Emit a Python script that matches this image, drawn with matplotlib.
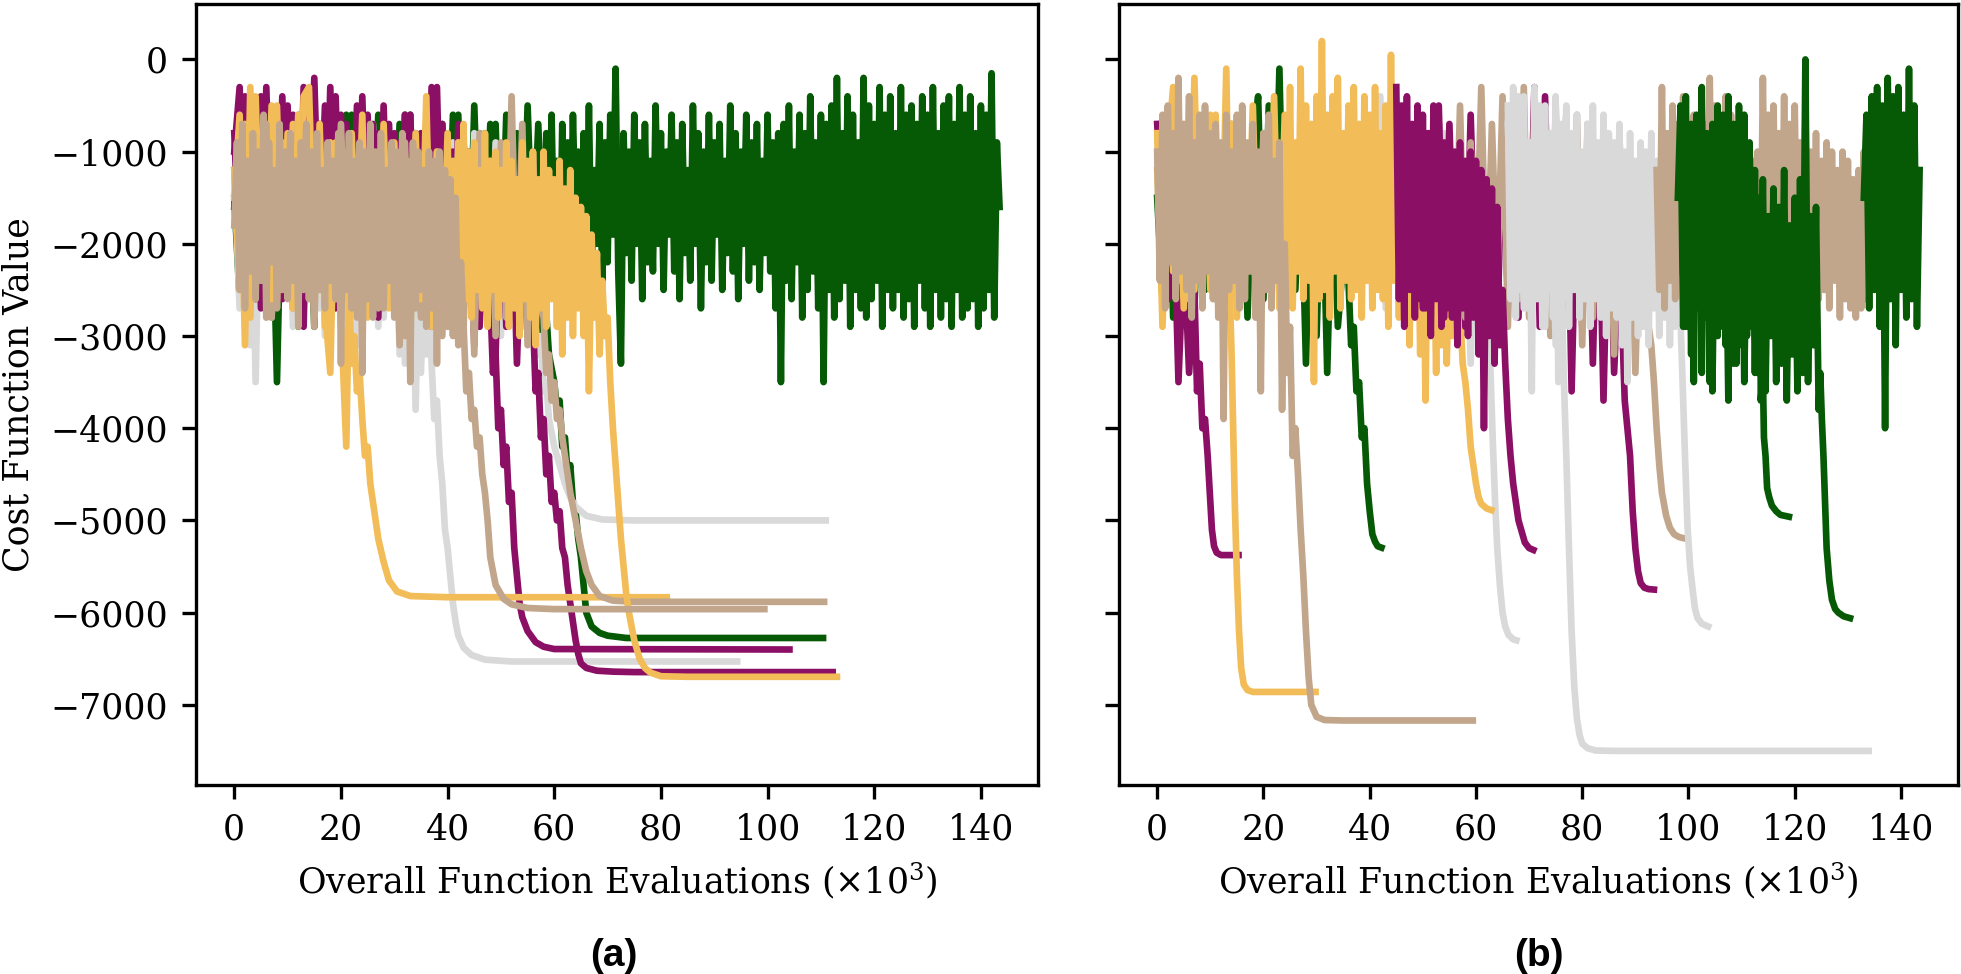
import matplotlib
matplotlib.use("Agg")
import matplotlib.pyplot as plt
import numpy as np

plt.rcParams["font.family"] = "DejaVu Serif"
plt.rcParams["mathtext.fontset"] = "dejavuserif"

GREEN = "#065a06"
PURPLE = "#8c0f66"
GRAY = "#d9d9d9"
TAN = "#c1a68c"
YELLOW = "#f2bc58"

# noisy phases: values sampled every `step` (x 1e3 evals) starting at `start`
# tails: descent + plateau as explicit (x, cost) points

# ---------------- panel (a) ----------------
a_green1_noise = [
    -1500, -2600, -800, -2900, -1000, -2400, -700, -2800, -1100, -2500,
    -600, -2700, -900, -2300, -1200, -2900, -700, -2600, -1000, -2400,
    -800, -2800, -600, -2500, -1100, -2700, -900, -2300, -700, -2600,
    -1000, -2900, -600, -2400, -800, -2700, -1100, -2500, -700, -2800,
    -900, -2400, -600, -2600, -1000, -2900, -800, -2300, -700, -2700,
    -1000, -2500, -900, -2800, -1200, -2600, -1500, -3000]
a_green1_tail_x = [58, 59, 60, 60.5, 61, 61.5, 62, 62.5, 63, 63.5, 64, 64.5, 65,
                   65.5, 66, 67, 68.5, 70, 73.5, 110.4]
a_green1_tail_y = [-2300, -3200, -3500, -3800, -3700, -4200, -4100, -4500, -4400,
                   -4800, -4900, -5200, -5400, -5700, -6000, -6150, -6220, -6250,
                   -6275, -6275]

a_green2_noise = [
    -1600, -700, -2500, -900, -2200, -800, -2700, -1100, -3500, -900,
    -2400, -700, -2900, -600, -2100, -1000, -2600, -700, -2300, -900,
    -2500, -600, -2200, -800, -2700, -700, -2000, -600, -2400, -800,
    -2200, -700, -2600, -600, -2300, -900, -2500, -800, -2100, -700,
    -2400, -600, -2200, -900, -2600, -500, -2300, -800, -2000, -700,
    -2500, -600, -2100, -800, -2400, -500, -2200, -700]
a_green2_dense = [
    -2400, -800, -1900, -600, -2200, -1100, -2500, -700, -2000, -900,
    -2300, -600, -1800, -1000, -2600, -800, -2100, -500, -2400, -1200,
    -2000, -700, -2500, -900, -2200, -600, -1900, -100, -2300, -3300,
    -800, -2100, -1000, -2400, -600, -2000, -900, -2600, -700, -2200,
    -1100, -2300, -500, -2000, -800, -2500, -1000, -1900, -600, -2300,
    -900, -2600, -700, -2100, -1200, -2400, -500, -2000, -800, -2700,
    -1000, -2200, -600, -2400, -900, -1900, -700, -2500, -1100, -2100,
    -500, -2300, -800, -2600, -1000, -2000, -600, -2400, -900, -2200,
    -700, -2500, -1100, -2100, -600, -2300, -900, -2700, -800, -3500,
    -700, -2400, -500, -2600, -1000, -2200, -600, -2800, -800, -2500,
    -400, -2300, -900, -2700, -600, -3500, -700, -2500, -500, -2800,
    -200, -2600, -800, -2400, -400, -2900, -600, -2500, -900, -2700,
    -200, -2800, -500, -2600, -700, -2400, -300, -2900, -600, -2500,
    -400, -2700, -800, -2500, -300, -2800, -600, -2600, -500, -2900,
    -700, -2400, -400, -2700, -600, -2900, -300, -2500, -800, -2800,
    -500, -2600, -400, -2900, -700, -2500, -300, -2800, -600, -2700,
    -400, -2600, -800, -2900, -500, -2700, -600, -2500, -150, -2800,
    -900, -1600]

a_purple1_noise = [
    -1000, -300, -2400, -500, -2600, -400, -2200, -700, -2500, -400,
    -2300, -600, -2700, -300, -2400, -200, -2200, -500, -2600, -400,
    -2300, -700, -2500, -500, -2800, -600, -2400, -800, -2600, -700,
    -2300, -900, -2700, -600, -2500, -800, -2400, -300, -2900, -700,
    -2600, -1000, -2800, -900, -2500, -1100, -2900, -1300]
a_purple1_tail_x = [48, 48.5, 49, 49.5, 50, 50.5, 51, 51.5, 52, 52.5, 53, 53.5, 54,
                    55, 56.5, 58, 60, 104.1]
a_purple1_tail_y = [-2600, -3400, -3200, -4000, -3800, -4400, -4200, -4800, -4700,
                    -5300, -5600, -5900, -6050, -6200, -6320, -6370, -6395, -6400]

a_purple2_noise = [
    -800, -2200, -400, -2500, -600, -2700, -300, -2300, -900, -2600,
    -500, -2400, -700, -2900, -400, -2300, -800, -2500, -300, -2700,
    -600, -2400, -900, -2600, -400, -2300, -700, -2800, -500, -2500,
    -800, -2400, -600, -2700, -1000, -2500, -700, -2900, -300, -2600,
    -900, -2800, -700, -2500, -1100, -3100, -900, -2700, -1200, -3200,
    -1000, -2900, -1300, -3300, -1500, -3000]
a_purple2_tail_x = [56, 56.5, 57, 57.5, 58, 58.5, 59, 59.5, 60, 60.5, 61, 61.5, 62,
                    62.5, 63, 63.5, 64, 64.5, 65, 66, 68, 71, 75, 112.2]
a_purple2_tail_y = [-2800, -3600, -3400, -4100, -3900, -4500, -4300, -4800, -4700,
                    -5000, -4900, -5300, -5400, -5700, -5900, -6100, -6300, -6450,
                    -6550, -6600, -6630, -6640, -6645, -6645]

a_gray1_noise = [
    -1500, -800, -2400, -600, -3500, -500, -2800, -900, -2500, -700,
    -2300, -1000, -2600, -800, -2400, -900, -2700, -600, -2500, -1000,
    -2300, -800, -2900, -700, -2600, -1100, -2400, -900, -2800, -700,
    -2500, -1000, -3300, -800, -3800, -1200, -3200, -900, -2700, -1100,
    -2500, -900, -2800, -1000, -2600, -800, -2900, -1100, -2700, -900,
    -3000, -1000, -2800, -1300, -2900, -1800]
a_gray1_tail_x = [56, 57, 57.5, 58, 58.5, 59, 60, 61, 62, 63, 64, 66, 69, 75, 110.9]
a_gray1_tail_y = [-2600, -3200, -3000, -3600, -3500, -3900, -4200, -4400, -4600,
                  -4750, -4850, -4950, -4990, -5000, -5000]

a_gray2_noise = [
    -1200, -2700, -700, -3100, -900, -2600, -500, -2800, -1000, -2400,
    -800, -2900, -600, -2500, -1100, -2700, -800, -3000, -700, -2600,
    -900, -2800, -1000, -3100, -800, -2600, -700, -2900, -1100, -2500,
    -900, -3200, -1000, -2800, -1200, -3400, -1500]
a_gray2_tail_x = [37, 37.5, 38, 38.5, 39, 39.5, 40, 40.5, 41, 41.5, 42, 43, 44.5, 47,
                  52, 94.3]
a_gray2_tail_y = [-3300, -3900, -3700, -4300, -4600, -5100, -5300, -5600, -5900,
                  -6100, -6250, -6380, -6460, -6510, -6530, -6530]

a_tan1_noise = [
    -1200, -2200, -800, -2600, -1000, -2400, -700, -2800, -1100, -2300,
    -900, -2700, -600, -2500, -1000, -2900, -800, -2400, -1200, -2600,
    -700, -2300, -1000, -2800, -900, -2500, -1100, -2700, -800, -2400,
    -1000, -3100, -900, -2600, -1200, -2800, -700, -2500, -1000, -3000,
    -1100, -2700, -900, -2900, -1200, -3200, -800, -2600, -1100, -3000,
    -900, -2800, -400, -2700, -700, -3100, -1000, -2600]
a_tan1_tail_x = [58, 58.5, 59, 59.5, 60, 60.5, 61, 61.5, 62, 62.5, 63, 64, 65, 66,
                 67, 68.5, 71, 75, 110.6]
a_tan1_tail_y = [-2800, -3400, -3200, -3700, -3500, -3900, -3800, -4100, -4300,
                 -4500, -4700, -5000, -5300, -5550, -5700, -5820, -5870, -5883, -5883]

a_tan2_dense = [
    -1800, -900, -2500, -700, -2700, -1100, -2300, -800, -2600, -1000,
    -2400, -600, -2800, -900, -2200, -1200, -2700, -700, -2500, -1000,
    -2600, -800, -2400, -1100, -2900, -900, -2300, -700, -2600, -1000,
    -2800, -800, -2500, -1200, -2700, -900, -2400, -1100, -2600, -800,
    -3300, -1000, -2500, -800, -2700, -1100, -2400, -900, -3400, -1000,
    -2600, -700, -2800, -1000, -2500, -800, -2700, -1200, -2400, -900,
    -2800, -1000, -2600, -800, -3000, -1100, -3500, -900, -2700, -1000,
    -2500, -1200, -2900, -1000, -2700, -1100, -3300, -1000, -2800, -1200,
    -2900, -1300, -3000, -1500, -3100, -2200]
a_tan2_tail_x = [43, 43.5, 44, 44.5, 45, 45.5, 46, 46.5, 47, 47.5, 48, 49, 50.5, 52,
                 55, 60, 99.4]
a_tan2_tail_y = [-2900, -3600, -3400, -3900, -3800, -4200, -4100, -4500, -4700,
                 -5000, -5400, -5700, -5850, -5910, -5950, -5962, -5962]

a_yellow1_noise = [
    -1500, -600, -3100, -300, -2400, -800, -2200, -500, -2600, -900,
    -2300, -700, -2500, -400, -300, -2200, -1000, -2700, -3400, -900, -2800]
a_yellow1_tail_x = [21, 21.5, 22, 22.5, 23, 23.5, 24, 24.5, 25, 25.5, 26, 26.5, 27,
                    28, 29, 30.5, 33, 40, 81.1]
a_yellow1_tail_y = [-4200, -2500, -3300, -3000, -3600, -3400, -3900, -4300, -4200,
                    -4600, -4800, -5000, -5200, -5450, -5650, -5770, -5820, -5833,
                    -5833]

a_yellow2_noise = [
    -1200, -2500, -700, -2800, -400, -2300, -900, -2600, -500, -2400,
    -800, -2700, -600, -2300, -1000, -2500, -700, -2900, -900, -2400,
    -1100, -2600, -800, -2300, -600, -2800, -1000, -2500, -700, -2700,
    -900, -2400, -1200, -3000, -800, -2600, -400, -2900, -1000, -2500]
a_yellow2_dense = [
    -800, -2800, -1100, -2400, -900, -3000, -700, -2600, -1000, -2800,
    -900, -2500, -1200, -2700, -800, -2900, -1100, -2500, -1000, -2800,
    -1200, -2600, -900, -2900, -1100, -2700, -1300, -3000, -900, -2600,
    -1100, -2800, -1000, -3100, -1300, -2700, -1000, -2900, -1200, -2600,
    -1300, -2900, -1100, -3200, -1400, -2800, -1200, -3000, -1500, -2700,
    -1600, -3000, -1700, -3600, -1900, -2800, -2100, -3200]
a_yellow2_tail_x = [69, 69.5, 70, 70.5, 71, 71.5, 72, 72.5, 73, 73.5, 74, 75, 76, 77,
                    78, 80, 85, 113]
a_yellow2_tail_y = [-2400, -3000, -2800, -3500, -4000, -4400, -4800, -5200, -5500,
                    -5800, -6000, -6300, -6500, -6600, -6650, -6690, -6696, -6696]

# ---------------- panel (b) ----------------
b_green1_noise = [
    -1500, -2600, -900, -2800, -1100, -2400, -800, -2700, -1000, -2500,
    -900, -2600, -1200, -2800, -700, -2500, -1000, -2800, -900, -400,
    -2600, -500, -2400, -100, -2700, -900, -2500, -1100, -3300, -800,
    -3000, -1000, -3400, -1200, -2900, -2200]
b_green1_tail_x = [36, 36.5, 37, 37.5, 38, 38.5, 39, 39.5, 40, 40.5, 41, 41.5, 42.2]
b_green1_tail_y = [-2400, -3100, -2900, -3600, -3500, -4100, -4000, -4600, -4900,
                   -5150, -5230, -5280, -5295]

b_gray1_noise = [
    -1000, -2500, -400, -2700, -800, -2400, -600, -2800, -1000, -2600,
    -900, -2900, -1100, -2700, -800, -3000, -1000, -2800, -1200, -3300,
    -1400, -3100]
b_gray1_tail_x = [62.3, 62.8, 63.2, 63.6, 64, 64.5, 65, 65.5, 66.1, 67, 67.6]
b_gray1_tail_y = [-2700, -3500, -4200, -4800, -5300, -5700, -6000, -6150, -6240,
                  -6290, -6300]

b_purple1_noise = [-700, -1800, -2600, -1400, -3500, -2000, -3400, -2500]
b_purple1_tail_x = [7.5, 8, 8.5, 9, 9.5, 10, 10.3, 10.7, 11.2, 12, 15.3]
b_purple1_tail_y = [-3600, -3300, -4000, -3900, -4300, -4800, -5100, -5280, -5350,
                    -5376, -5376]

b_yellow1_noise = [
    -800, -2900, -1000, -300, -2400, -700, -2600, -200, -2300, -900,
    -2500, -600, -2700, -100]
b_yellow1_tail_x = [13.7, 14, 14.3, 14.6, 15, 15.4, 15.8, 16.3, 17, 18, 29.8]
b_yellow1_tail_y = [-2600, -3200, -4000, -4800, -5600, -6200, -6600, -6780, -6840,
                    -6860, -6860]

b_yellow2_noise = [
    -1200, -2600, -700, -2300, -900, -2700, -500, -2500, -800, -2200,
    -600, -2600, -1000, -2400, -700, -2800, -900, -2300, -500, -2600,
    -800, -2500, -400, -2700]
b_yellow2_dense = [
    -600, -2500, -300, -2700, -900, -2300, -100, -2600, -500, -2400,
    -700, -3500, -400, -2600, 200, -2500, -600, -2800, -400, -2300,
    -200, -2700, -800, -2400, -500, -2600, -300, -2500, -700, -2800,
    -400, -2400, -600, -2700, -300, -2500, -800, -2600, -500, -2900,
    50, -2400, -700, -2800, -600, -2500, -900, -3100, -1000, -2700,
    -1200, -3200, -1400, -3700, -1300, -2900, -1600, -3400, -1500, -3100,
    -1800, -3300, -2000, -3000, -2200, -2600]
b_yellow2_tail_x = [57, 57.5, 58, 58.5, 59, 59.5, 60, 60.5, 61, 62, 62.9]
b_yellow2_tail_y = [-2700, -3300, -3500, -3800, -4200, -4400, -4600, -4750, -4820,
                    -4870, -4888]

b_tan1_dense = [
    -1000, -2400, -600, -2700, -500, -2200, -800, -2600, -200, -2300,
    -700, -2500, -400, -2800, -900, -2400, -600, -2700, -500, -2300,
    -800, -2600, -700, -2800, -900, -3900, -600, -2500, -1000, -2400,
    -600, -2700, -500, -2600, -900, -2300, -700, -2800, -1000, -3600,
    -800, -2500, -600, -2700, -1100, -2400, -900, -3800]
b_tan1_tail_x = [24, 24.5, 25, 25.5, 26, 26.5, 27, 27.5, 28, 28.5, 29, 30, 31.5, 35,
                 59.4]
b_tan1_tail_y = [-2000, -3400, -2900, -4300, -4000, -4500, -5100, -5600, -6200,
                 -6700, -7000, -7130, -7165, -7170, -7170]

b_purple3_noise = [
    -900, -2500, -600, -2700, -800, -2400, -500, -2800, -700, -2600,
    -900, -2900, -600, -2500, -800, -2700, -1000, -3000, -700, -2600,
    -900, -2800, -600, -2500, -300, -2900, -400, -2700, -800, -3200,
    -600, -3600, -1100, -2900, -900, -3300, -1000, -3700, -1200, -3400, -2000]
b_purple3_tail_x = [88, 88.5, 89, 89.5, 90, 90.5, 91, 91.7, 92.5, 93.5]
b_purple3_tail_y = [-3700, -4000, -4300, -4900, -5300, -5550, -5680, -5730, -5745,
                    -5750]

b_tan2_noise = [
    -1200, -2600, -500, -2800, -900, -2400, -300, -2700, -700, -2500,
    -400, -2900, -800, -2600, -300, -2800, -600, -2500, -900, -3000,
    -500, -2700, -800, -2400, -600, -3100, -700, -2800, -1000, -2600,
    -900, -3200, -800, -2900, -1100, -3400, -1300, -2700]
b_tan2_tail_x = [93, 93.5, 94, 94.5, 95, 95.8, 96.5, 97.3, 98.2, 98.9]
b_tan2_tail_y = [-3100, -3500, -4000, -4400, -4700, -4950, -5080, -5150, -5180,
                 -5190]

b_purple2_dense = [
    -300, -2600, -500, -2900, -400, -2500, -700, -2800, -500, -2600,
    -600, -2700, -800, -3000, -500, -2600, -700, -2900, -900, -2700,
    -800, -2800, -1000, -3100, -900, -2700, -1100, -3000, -1000, -2800,
    -1100, -3200, -1200, -4000, -1300, -3000, -1400, -3300, -1600, -3100]
b_purple2_tail_x = [65, 65.5, 66, 66.5, 67, 67.5, 68, 68.5, 69.2, 70, 70.8]
b_purple2_tail_y = [-2500, -3300, -3900, -4300, -4600, -4800, -5000, -5100, -5240,
                    -5300, -5320]

b_gray2_noise = [-700, -2500, -400, -2700, -900, -2400, -500, -2900, -800, -3100,
                 -2200]
b_gray2_tail_x = [76.5, 77, 77.5, 78, 78.5, 79, 79.5, 80, 81, 82.5, 86, 133.9]
b_gray2_tail_y = [-3400, -4300, -5300, -6200, -6800, -7150, -7330, -7420, -7470,
                  -7495, -7500, -7500]

b_gray3_dense = [
    -500, -2600, -300, -2800, -700, -2500, -400, -2700, -900, -3600,
    -300, -2600, -600, -2900, -500, -2500, -800, -2800, -400, -3500,
    -700, -2600, -500, -2900, -800, -2500, -600, -2800, -1000, -2600,
    -700, -2900, -500, -2600, -900, -2800, -600, -3000, -800, -2700,
    -900, -2800, -700, -3100, -1000, -3500, -800, -2800, -1100, -3000,
    -900, -2900, -1000, -3100, -800, -2700, -1100, -3000, -1200, -2800,
    -1000, -3100, -1200, -2900, -1400, -2600]
b_gray3_tail_x = [98.6, 99, 99.4, 99.8, 100.3, 100.8, 101.2, 101.7, 102.5, 103.7]
b_gray3_tail_y = [-3000, -3700, -4400, -5050, -5500, -5760, -5950, -6060, -6120,
                  -6150]

b_tan3_dense = [
    -1200, -2500, -300, -2700, -800, -2400, -500, -2600, -700, -2300,
    -400, -2500, -900, -2700, -600, -2400, -1000, -2600, -700, -2200,
    -200, -2500, -500, -2300, -800, -2600, -400, -2400, -600, -2200,
    -700, -2500, -900, -2600, -1000, -2700, -1100, -2800, -1000, -2700,
    -200, -2400, -600, -2600, -500, -2300, -800, -2500, -400, -2700,
    -700, -2400, -500, -2600, -900, -2300, -600, -2500, -1000, -2400,
    -800, -2600, -1100, -2500, -900, -2700, -1000, -2400, -1200, -2800,
    -1000, -2600, -1100, -2700, -1300, -2800, -1200, -2700, -1000, -2600]

b_green2_dense = [
    -1500, -500, -2900, -400, -2500, -700, -3500, -600, -2600, -300,
    -2800, -800, -3500, -700, -2900, -500, -2600, -600, -3100, -400,
    -2700, -700, -3300, -500, -2800, -600, -3000, -900, -2600, -1200,
    -3400, -1500]
b_green2_tail_x = [113.6, 114, 114.2, 114.5, 114.8, 115.2, 115.7, 116.5, 117.3, 118.9]
b_green2_tail_y = [-3700, -3400, -4100, -4300, -4650, -4750, -4840, -4900, -4940,
                   -4960]

b_green3_dense = [
    -1300, -2900, -800, -3200, -1100, -2700, -900, -3400, -1200, -2800,
    -1000, -3600, -1300, -3000, -1100, -2900, -1500, -3700, -1200, -3300,
    -1400, -3100, -1000, -3500, -1600, -2900, -1200, -3400, -1500, -3200,
    -1300, -3600, -1700, -3000, -1400, -3500, -1600, -3300, -1200, -3700,
    -1800, -3200, -1500, -3600, -1300, -3400, 0, -3500, -1700, -3100,
    -1600, -3800]
b_green3_tail_x = [124.8, 125.1, 125.4, 125.7, 126, 126.5, 127, 127.6, 128.2, 129.2,
                   130.4]
b_green3_tail_y = [-3400, -3900, -4300, -4800, -5300, -5650, -5860, -5960, -6000,
                   -6040, -6060]

b_green4_dense = [
    -1500, -600, -2700, -400, -2500, -300, -2900, -500, -4000, -200,
    -2600, -400, -3100, -300, -2500, -600, -2800, -100, -2600, -500,
    -2900, -1200]

# trace table: ([(start, step, values), ...], tail_x, tail_y, colour); bottom to top
panel_a = [
    ([(0, 1, a_green2_noise), (58, 0.5, a_green2_dense)], [], [], GREEN),
    ([(0, 1, a_green1_noise)], a_green1_tail_x, a_green1_tail_y, GREEN),
    ([(0, 1, a_gray1_noise)], a_gray1_tail_x, a_gray1_tail_y, GRAY),
    ([(0, 1, a_gray2_noise)], a_gray2_tail_x, a_gray2_tail_y, GRAY),
    ([(0, 1, a_purple1_noise)], a_purple1_tail_x, a_purple1_tail_y, PURPLE),
    ([(0, 1, a_purple2_noise)], a_purple2_tail_x, a_purple2_tail_y, PURPLE),
    ([(0, 1, a_yellow1_noise)], a_yellow1_tail_x, a_yellow1_tail_y, YELLOW),
    ([(0, 1, a_tan1_noise)], a_tan1_tail_x, a_tan1_tail_y, TAN),
    ([(0, 1, a_yellow2_noise), (40, 0.5, a_yellow2_dense)],
     a_yellow2_tail_x, a_yellow2_tail_y, YELLOW),
    ([(0, 0.5, a_tan2_dense)], a_tan2_tail_x, a_tan2_tail_y, TAN),
]
panel_b = [
    ([(0, 1, b_green1_noise)], b_green1_tail_x, b_green1_tail_y, GREEN),
    ([(40, 1, b_gray1_noise)], b_gray1_tail_x, b_gray1_tail_y, GRAY),
    ([(0, 1, b_purple1_noise)], b_purple1_tail_x, b_purple1_tail_y, PURPLE),
    ([(0, 1, b_yellow1_noise)], b_yellow1_tail_x, b_yellow1_tail_y, YELLOW),
    ([(0, 1, b_yellow2_noise), (24, 0.5, b_yellow2_dense)],
     b_yellow2_tail_x, b_yellow2_tail_y, YELLOW),
    ([(0, 0.5, b_tan1_dense)], b_tan1_tail_x, b_tan1_tail_y, TAN),
    ([(47, 1, b_purple3_noise)], b_purple3_tail_x, b_purple3_tail_y, PURPLE),
    ([(55, 1, b_tan2_noise)], b_tan2_tail_x, b_tan2_tail_y, TAN),
    ([(45, 0.5, b_purple2_dense)], b_purple2_tail_x, b_purple2_tail_y, PURPLE),
    ([(66, 1, b_gray2_noise)], b_gray2_tail_x, b_gray2_tail_y, GRAY),
    ([(66, 0.5, b_gray3_dense)], b_gray3_tail_x, b_gray3_tail_y, GRAY),
    ([(94, 0.5, b_tan3_dense)], [], [], TAN),
    ([(98, 0.5, b_green2_dense)], b_green2_tail_x, b_green2_tail_y, GREEN),
    ([(99, 0.5, b_green3_dense)], b_green3_tail_x, b_green3_tail_y, GREEN),
    ([(133, 0.5, b_green4_dense)], [], [], GREEN),
]

fig = plt.figure(figsize=(9.805, 4.87), dpi=200)
ax_a = fig.add_axes([0.0999, 0.194, 0.4294, 0.8018])
ax_b = fig.add_axes([0.5706, 0.194, 0.4278, 0.8018], sharey=ax_a)

for ax, traces in ((ax_a, panel_a), (ax_b, panel_b)):
    for segs, tx, ty, col in traces:
        xs = [x0 + step * np.arange(len(v)) for x0, step, v in segs]
        ys = [np.asarray(v, dtype=float) for _, _, v in segs]
        x = np.concatenate(xs + [np.asarray(tx, dtype=float)])
        y = np.concatenate(ys + [np.asarray(ty, dtype=float)])
        ax.plot(x, y, color=col, lw=2.4)
    ax.set_xlim(-7.2, 150.7)
    ax.set_xticks(np.arange(0, 141, 20))
    ax.set_xlabel(r"Overall Function Evaluations ($\times10^3$)", fontsize=12.5,
                  labelpad=5)
    ax.tick_params(labelsize=12.5, width=1.2, length=5, pad=5)
    for s in ax.spines.values():
        s.set_linewidth(1.2)

ax_a.set_ylim(-7870, 600)
ax_a.set_yticks(np.arange(-7000, 1, 1000))
ax_a.set_ylabel("Cost Function Value", fontsize=12.5, labelpad=5.5)
ax_b.tick_params(labelleft=False)

fig.text(0.313, 0.018, "(a)", fontsize=14, fontweight="bold",
         family="Liberation Sans", ha="center", va="center")
fig.text(0.7846, 0.018, "(b)", fontsize=14, fontweight="bold",
         family="Liberation Sans", ha="center", va="center")

fig.savefig("out.png", dpi=200)
